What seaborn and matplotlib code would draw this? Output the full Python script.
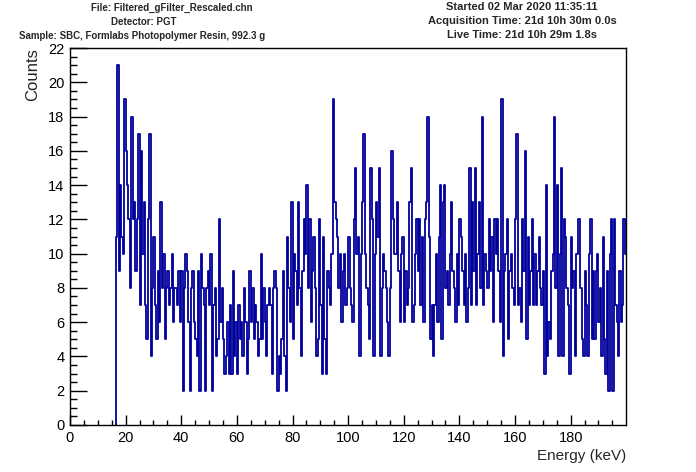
import warnings

warnings.filterwarnings("ignore")

import numpy as np
import pandas as pd
import seaborn as sns
import matplotlib

matplotlib.use("Agg")
import matplotlib.pyplot as plt
from matplotlib.ticker import MultipleLocator

# spectrum: 0.5 keV bins starting at 16.5 keV
bin_start = 16.5
bin_width = 0.5

counts_low = [
    11, 21, 9, 14, 11, 10, 19,
    16, 14, 12, 8, 18, 12, 13, 9, 12, 17,
    7, 16, 10, 13, 7, 5, 12, 17, 4, 8,
    11, 7, 5, 9, 6, 13, 8, 10, 5, 8,
    9, 7, 8, 10, 6, 8, 8, 7, 9, 6,
    9, 2, 8, 10, 9, 6, 2, 8, 9, 6,
    5, 4, 9, 2, 10, 8, 7, 2, 8, 9,
    7, 10, 2, 7, 8, 4, 5, 12, 6, 8,
    5, 3, 4, 6, 3, 7, 3, 9, 4, 6,
]
counts_mid = [
    3, 7, 5, 6, 4, 8, 6, 3, 5, 9,
    6, 8, 5, 7, 6, 4, 5, 10, 5, 8,
    6, 4, 7, 8, 7, 3, 8, 9, 8, 2,
    4, 3, 5, 9, 4, 2, 11, 8, 6, 13,
    5, 10, 9, 7, 13, 8, 4, 9, 12, 10,
    14, 8, 12, 6, 9, 11, 8, 4, 5, 12,
    7, 3, 11, 5, 3, 9, 8, 7, 10, 19,
    13, 12, 11, 8, 10, 6, 9, 10, 7, 8,
    11, 8, 7, 6, 12, 15, 10, 11, 4, 10,
    13, 17, 10, 8, 7, 5, 15, 12, 4, 10,
    13, 11, 15, 4, 8, 10, 9, 8, 6, 4,
    8, 16, 12, 10, 10, 13, 9, 6, 10, 11,
    6, 9, 7, 8, 13, 15, 6, 7, 10, 12,
    9, 12, 7, 11, 6, 12, 13, 18, 11, 5,
]
counts_high = [
    7, 4, 7, 10, 6, 11, 14, 5, 13, 14,
    8, 9, 7, 10, 13, 9, 8, 6, 10, 7,
    12, 11, 9, 7, 10, 6, 8, 15, 7, 13,
    9, 15, 7, 10, 13, 8, 18, 7, 10, 9,
    8, 12, 9, 11, 6, 12, 10, 12, 9, 6,
    19, 4, 9, 10, 12, 5, 9, 10, 8, 7,
    12, 17, 7, 8, 6, 12, 9, 16, 5, 11,
    7, 9, 12, 7, 10, 7, 9, 11, 8, 7,
    9, 3, 14, 4, 6, 5, 9, 10, 18, 8,
    14, 4, 10, 15, 4, 12, 11, 8, 7, 3,
    11, 8, 9, 4, 10, 12, 12, 8, 5, 4,
    9, 7, 4, 10, 12, 5, 9, 5, 9, 10,
    6, 8, 4, 11, 5, 3, 9, 2, 10, 12,
    2, 12, 7, 6, 4, 9, 6, 7, 12, 10,
]

header_left = [
    "File: Filtered_gFilter_Rescaled.chn",
    "Detector: PGT",
    "Sample: SBC, Formlabs Photopolymer Resin, 992.3 g",
]
header_right = [
    "Started 02 Mar 2020 11:35:11",
    "Acquisition Time: 21d 10h 30m 0.0s",
    "Live Time: 21d 10h 29m 1.8s",
]

sns.set_style("white")
plt.rcParams["font.family"] = ["Liberation Sans", "DejaVu Sans"]

counts = np.array(counts_low + counts_mid + counts_high, dtype=float)
n_bins = len(counts)
bin_stop = bin_start + bin_width * n_bins
centers = bin_start + bin_width * (np.arange(n_bins) + 0.5)
data = pd.DataFrame({"energy": centers, "counts": counts})

color = "#00009c"
fig = plt.figure(figsize=(6.96, 4.72), dpi=100)
ax = fig.add_axes([70 / 696, 1 - 425 / 472, 556 / 696, 377 / 472])

sns.histplot(
    data=data,
    x="energy",
    weights="counts",
    binwidth=bin_width,
    binrange=(bin_start, bin_stop),
    element="step",
    fill=False,
    color=color,
    linewidth=1.3,
    ax=ax,
)
# ROOT draws the first bin edge from the baseline
ax.vlines(bin_start, 0, counts[0], color=color, linewidth=1.3)

ax.set_xlim(0, 199.9)
ax.set_ylim(0, 22)
ax.xaxis.set_major_locator(MultipleLocator(20))
ax.xaxis.set_minor_locator(MultipleLocator(5))
ax.yaxis.set_major_locator(MultipleLocator(2))
ax.yaxis.set_minor_locator(MultipleLocator(0.5))
ax.tick_params(axis="both", which="both", direction="in", labelsize=10.5,
               top=False, right=False, bottom=True, left=True, colors="black")
ax.tick_params(axis="x", which="major", length=7.2, width=1, pad=4)
ax.tick_params(axis="x", which="minor", length=3.6, width=1)
ax.tick_params(axis="y", which="major", length=12, width=1, pad=4)
ax.tick_params(axis="y", which="minor", length=5, width=1)
for s in ax.spines.values():
    s.set_color("black")
    s.set_linewidth(1)

ax.set_xlabel("Energy (keV)", fontsize=11, loc="right", labelpad=3)
ax.set_ylabel("Counts", fontsize=12, loc="top", labelpad=6)

left_x = [172, 144, 142]
for i, line in enumerate(header_left):
    fig.text(left_x[i] / 696, 1 - (8 + 14 * i) / 472, line, ha="center", va="center",
             fontsize=7, fontweight="bold")
for i, line in enumerate(header_right):
    fig.text(522 / 696, 1 - (7 + 14 * i) / 472, line, ha="center", va="center",
             fontsize=8, fontweight="bold")

fig.savefig("out.png", dpi=100)
